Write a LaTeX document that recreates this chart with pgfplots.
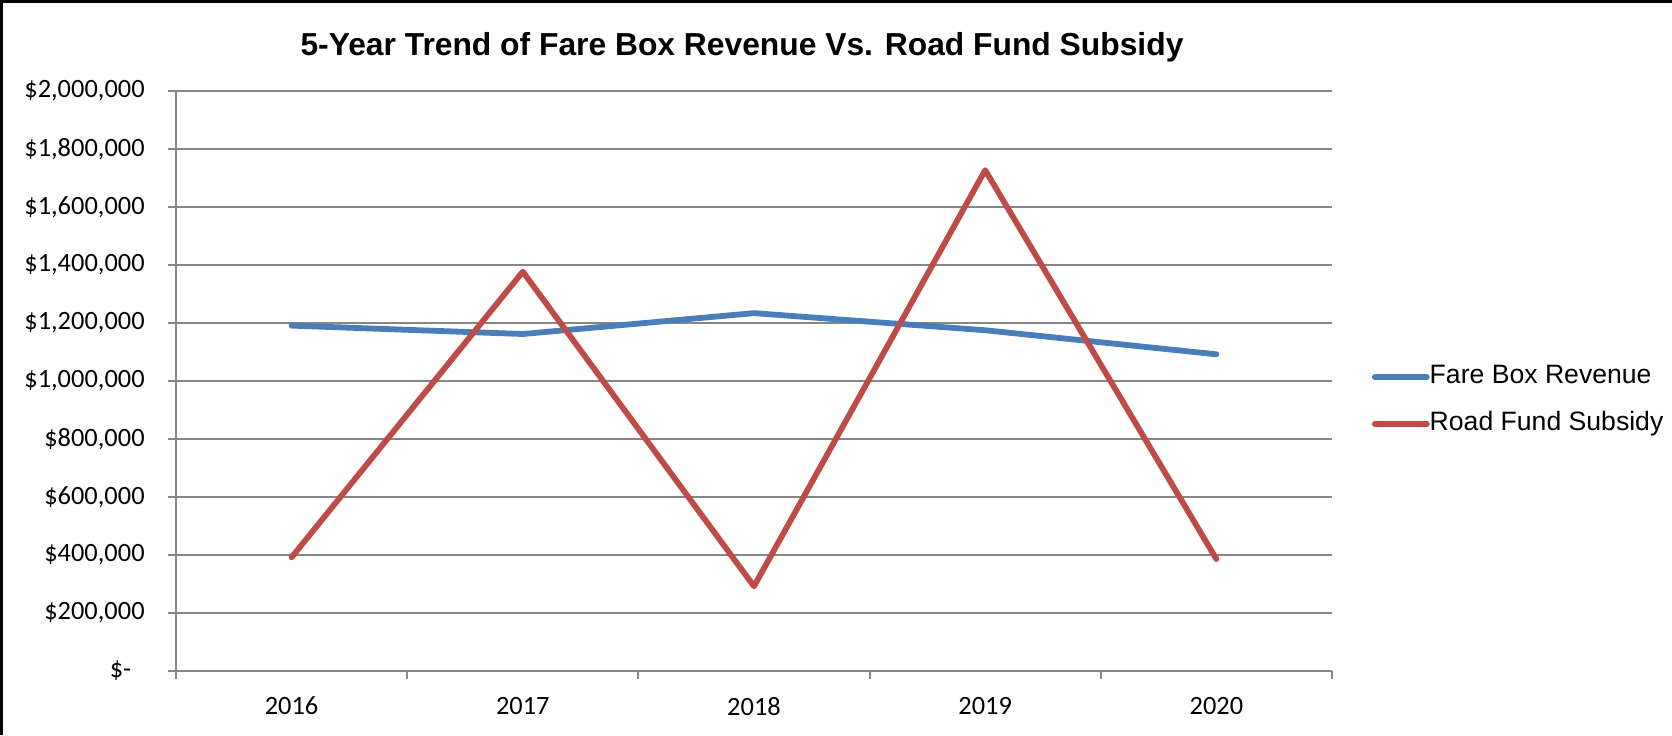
\documentclass[border=0pt]{standalone}
\usepackage{fontspec}
\setmainfont{Carlito}
\newfontfamily\arial{Liberation Sans}
\usepackage{pgfplots}
\pgfplotsset{compat=1.18}
\definecolor{gridgray}{HTML}{868686}
\definecolor{fareblue}{HTML}{4A7EBB}
\definecolor{roadred}{HTML}{BE4B48}
\begin{document}
\begin{tikzpicture}
\useasboundingbox (0,0) rectangle (836pt,367.5pt);
\draw[line width=3pt,black] (0,0) -- (0,367.5pt) -- (836pt,367.5pt);
\node[anchor=base,inner sep=0pt,font=\arial\bfseries\fontsize{15.9}{18}\selectfont] at (371pt,339.5pt) {5-Year Trend of Fare Box Revenue Vs. Road Fund Subsidy};
\begin{axis}[
  at={(88pt,32pt)}, anchor=south west,
  scale only axis, width=578pt, height=290pt,
  xmin=-0.5, xmax=4.5, ymin=0, ymax=2000000,
  axis lines*=left,
  axis line style={line width=1pt, gridgray},
  tick style={line width=1pt, gridgray},
  tick align=outside, major tick length=4pt,
  ymajorgrids, grid style={line width=1pt, gridgray},
  scaled y ticks=false,
  ytick={0,200000,400000,600000,800000,1000000,1200000,1400000,1600000,1800000,2000000},
  yticklabels={{\$-\hphantom{0}},{\$200,000},{\$400,000},{\$600,000},{\$800,000},{\$1,000,000},{\$1,200,000},{\$1,400,000},{\$1,600,000},{\$1,800,000},{\$2,000,000}},
  xtick={-0.5,0.5,1.5,2.5,3.5,4.5},
  x tick label as interval,
  xticklabels={2016,2017,2018,2019,2020},
  ticklabel style={font=\fontsize{13.2}{15}\selectfont, text=black},
  yticklabel style={inner sep=0pt, xshift=-11.5pt},
  xticklabel style={inner sep=0pt, yshift=-8.8pt},
  legend style={at={(1.029,0.4663)}, anchor=west, draw=none, fill=none,
    font=\arial\fontsize{13.3}{15.5}\selectfont,
    nodes={inner sep=0pt, text height=9.5pt, text depth=2.8pt},
    row sep=11pt,
    /tikz/every even column/.append style={column sep=3.5pt}},
  legend cell align=left,
  legend image code/.code={\draw[#1] (0pt,0pt) -- (26pt,0pt);},
]
\addplot[fareblue, line width=2.9pt, line cap=round, line join=round] coordinates {(0,1191000) (1,1162000) (2,1234000) (3,1175000) (4,1092000)};
\addlegendentry{Fare Box Revenue}
\addplot[roadred, line width=2.9pt, line cap=round, line join=round] coordinates {(0,392000) (1,1377000) (2,292000) (3,1727000) (4,386000)};
\addlegendentry{Road Fund Subsidy}
\end{axis}
\end{tikzpicture}
\end{document}
